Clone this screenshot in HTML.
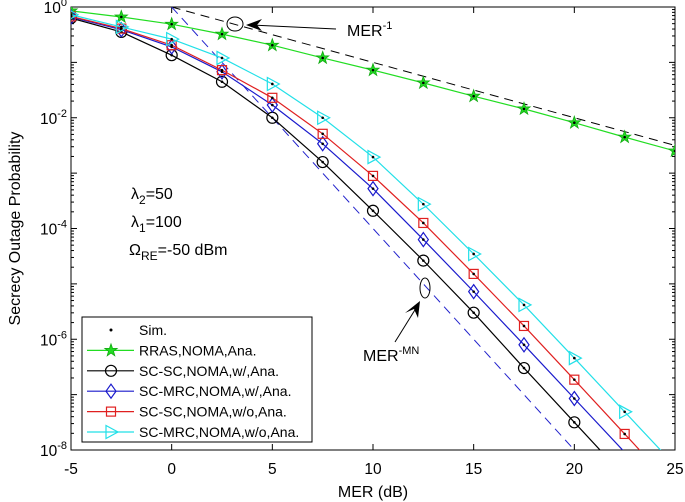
<!DOCTYPE html>
<html><head><meta charset="utf-8"><style>
body{margin:0;background:#fff}
svg{display:block;font-family:"Liberation Sans",sans-serif}
</style></head><body>
<svg id="c" width="685" height="502" xmlns="http://www.w3.org/2000/svg"></svg>
<script>
const xs=[-5,-2.5,0,2.5,5,7.5,10,12.5,15,17.5,20,22.5,25];
const green=[-0.07,-0.18,-0.31,-0.49,-0.69,-0.92,-1.14,-1.37,-1.61,-1.84,-2.09,-2.35,-2.6];
const black=[-0.2,-0.45,-0.87,-1.35,-2.0,-2.8,-3.68,-4.58,-5.52,-6.52,-7.5];
const blue=[-0.18,-0.41,-0.72,-1.17,-1.77,-2.47,-3.28,-4.2,-5.14,-6.1,-7.07];
const red=[-0.17,-0.39,-0.69,-1.14,-1.64,-2.29,-3.05,-3.9,-4.82,-5.76,-6.73,-7.71];
const cyan=[-0.14,-0.36,-0.58,-0.92,-1.39,-2.0,-2.71,-3.56,-4.46,-5.38,-6.34,-7.31];
const xTicks=[-5,0,5,10,15,20,25];
const yDecades=[0,-1,-2,-3,-4,-5,-6,-7,-8];
const yLabels=[0,-2,-4,-6,-8];
const mer1=[[0,0],[25,-2.5]];
const merMN=[[0,0],[20,-8]];

const L=71,R=675,T=7,B=450;
const X=v=>L+(v+5)/30*(R-L);
const Y=v=>T+(0-v)/8*(B-T);
const svg=document.getElementById('c');
const NS='http://www.w3.org/2000/svg';
function mk(tag,a,p){const e=document.createElementNS(NS,tag);for(const k in a)e.setAttribute(k,a[k]);(p||svg).appendChild(e);return e;}

const clip=mk('clipPath',{id:'cp'});mk('rect',{x:L,y:T,width:R-L,height:B-T},clip);
const box=mk('rect',{x:L,y:T,width:R-L,height:B-T,fill:'none',stroke:'#000','stroke-width':1});


xTicks.forEach(v=>{
 mk('line',{x1:X(v),x2:X(v),y1:B,y2:B-6,stroke:'#000'});
 mk('line',{x1:X(v),x2:X(v),y1:T,y2:T+6,stroke:'#000'});
 const t=mk('text',{x:X(v),y:B+24,'font-size':15.5,'text-anchor':'middle'});t.textContent=v;
 
 
});
yDecades.forEach(d=>{
 mk('line',{x1:L,x2:L+6,y1:Y(d),y2:Y(d),stroke:'#000'});
 mk('line',{x1:R,x2:R-6,y1:Y(d),y2:Y(d),stroke:'#000'});
 if(d>-8)for(let m=2;m<=9;m++){const yy=Y(d-1+Math.log10(m));
  mk('line',{x1:L,x2:L+3,y1:yy,y2:yy,stroke:'#000'});
  mk('line',{x1:R,x2:R-3,y1:yy,y2:yy,stroke:'#000'});}
});
yLabels.forEach(d=>{
 const t=mk('text',{x:L-4,y:Y(d)+6,'font-size':15.5,'text-anchor':'end'});
 t.textContent='10';
 const s=mk('tspan',{'font-size':11,dy:-7});s.textContent=String(d);t.appendChild(s);
 
 
});
const xt=mk('text',{x:X(10),y:497,'font-size':16,'text-anchor':'middle'});xt.textContent='MER (dB)';


const yt=mk('text',{x:20,y:(T+B)/2,'font-size':16,'text-anchor':'middle',transform:`rotate(-90 20 ${(T+B)/2})`});yt.textContent='Secrecy Outage Probability';



const g=mk('g',{'clip-path':'url(#cp)'});
const d1=mk('line',{x1:X(mer1[0][0]),y1:Y(mer1[0][1]),x2:X(mer1[1][0]),y2:Y(mer1[1][1]),stroke:'#000','stroke-dasharray':'9,6'},g);


const d2=mk('line',{x1:X(merMN[0][0]),y1:Y(merMN[0][1]),x2:X(merMN[1][0]),y2:Y(merMN[1][1]),stroke:'#2222cc','stroke-dasharray':'9,6'},g);



function marker(type,x,y,col,p){
 if(type==='star'){let pts=[];for(let i=0;i<10;i++){const r=i%2?2.6:6.5,a=-Math.PI/2+i*Math.PI/5;pts.push((x+r*Math.cos(a)).toFixed(1)+','+(y+r*Math.sin(a)).toFixed(1));}
  return mk('polygon',{points:pts.join(' '),fill:'#22dd22',stroke:'#11aa11','stroke-width':0.8},p);}
 if(type==='circle')return mk('circle',{cx:x,cy:y,r:5.5,fill:'none',stroke:col,'stroke-width':1.2},p);
 if(type==='diamond')return mk('polygon',{points:`${x},${y-7} ${x+5},${y} ${x},${y+7} ${x-5},${y}`,fill:'none',stroke:col,'stroke-width':1.2},p);
 if(type==='square')return mk('rect',{x:x-4.5,y:y-4.5,width:9,height:9,fill:'none',stroke:col,'stroke-width':1.2},p);
 if(type==='tri')return mk('polygon',{points:`${x-5},${y-6.5} ${x+7},${y} ${x-5},${y+6.5}`,fill:'none',stroke:col,'stroke-width':1.2},p);
}
const series=[
 {name:'series-rras',d:green,col:'#22dd22',m:'star',ext:null},
 {name:'series-sc-sc-w',d:black,col:'#000',m:'circle',ext:1},
 {name:'series-sc-mrc-w',d:blue,col:'#1a1acc',m:'diamond',ext:1},
 {name:'series-sc-sc-wo',d:red,col:'#e02020',m:'square',ext:1},
 {name:'series-sc-mrc-wo',d:cyan,col:'#22e0e8',m:'tri',ext:1}];
series.forEach(s=>{
 const grp=mk('g',{},g);
 
 
 let pts=s.d.map((v,i)=>X(xs[i])+','+Y(v));
 if(s.ext!==null){const n=s.d.length;pts.push(X(xs[n-1]+2.5)+','+Y(s.d[n-1]+(s.d[n-1]-s.d[n-2])));}
 mk('polyline',{points:pts.join(' '),fill:'none',stroke:s.col,'stroke-width':1.2},grp);
 s.d.forEach((v,i)=>{const m=marker(s.m,X(xs[i]),Y(v),s.col,grp);
  
  
  mk('circle',{cx:X(xs[i]),cy:Y(v),r:1.3,fill:'#000'},grp);});
});
function txt(x,y,html,name,fs){const t=mk('text',{x:x,y:y,'font-size':fs||16});t.innerHTML=html;
 
 return t;}
txt(131,199,'λ<tspan font-size="12" dy="5">2</tspan><tspan dy="-5">=50</tspan>','lambda2-label');
txt(131,227,'λ<tspan font-size="12" dy="5">1</tspan><tspan dy="-5">=100</tspan>','lambda1-label');
txt(129,255,'Ω<tspan font-size="12" dy="5">RE</tspan><tspan dy="-5">=-50 dBm</tspan>','omega-label');
txt(347,36,'MER<tspan font-size="11" dy="-7">-1</tspan>','mer-1-label');
txt(363,361,'MER<tspan font-size="11" dy="-7">-MN</tspan>','mer-mn-label');
mk('ellipse',{cx:235,cy:24,rx:8,ry:7,fill:'none',stroke:'#000'});
mk('line',{x1:336,y1:29,x2:252,y2:25,stroke:'#000'});
mk('polygon',{points:'246,25 262,19 257,25 262,31',fill:'#000'});
mk('ellipse',{cx:425,cy:288,rx:5,ry:10,fill:'none',stroke:'#000'});
mk('line',{x1:395,y1:342,x2:418,y2:305,stroke:'#000'});
mk('polygon',{points:'420,301 418,318 414,309 405,313',fill:'#000'});
const lg=mk('g',{});


mk('rect',{x:82,y:317,width:230,height:125,fill:'#fff',stroke:'#000'},lg);
const items=[['Sim.',null],['RRAS,NOMA,Ana.',series[0]],['SC-SC,NOMA,w/,Ana.',series[1]],['SC-MRC,NOMA,w/,Ana.',series[2]],['SC-SC,NOMA,w/o,Ana.',series[3]],['SC-MRC,NOMA,w/o,Ana.',series[4]]];
items.forEach((it,i)=>{const y=330+i*20.4;
 const e=mk('g',{},lg);
 
 
 if(it[1]){mk('line',{x1:87,x2:134,y1:y,y2:y,stroke:it[1].col,'stroke-width':1.2},e);marker(it[1].m,111,y,it[1].col,e);}
 else mk('circle',{cx:111,cy:y,r:1.5,fill:'#000'},e);
 const t=mk('text',{x:139,y:y+5,'font-size':14},e);t.textContent=it[0];
});
</script>
</body></html>
